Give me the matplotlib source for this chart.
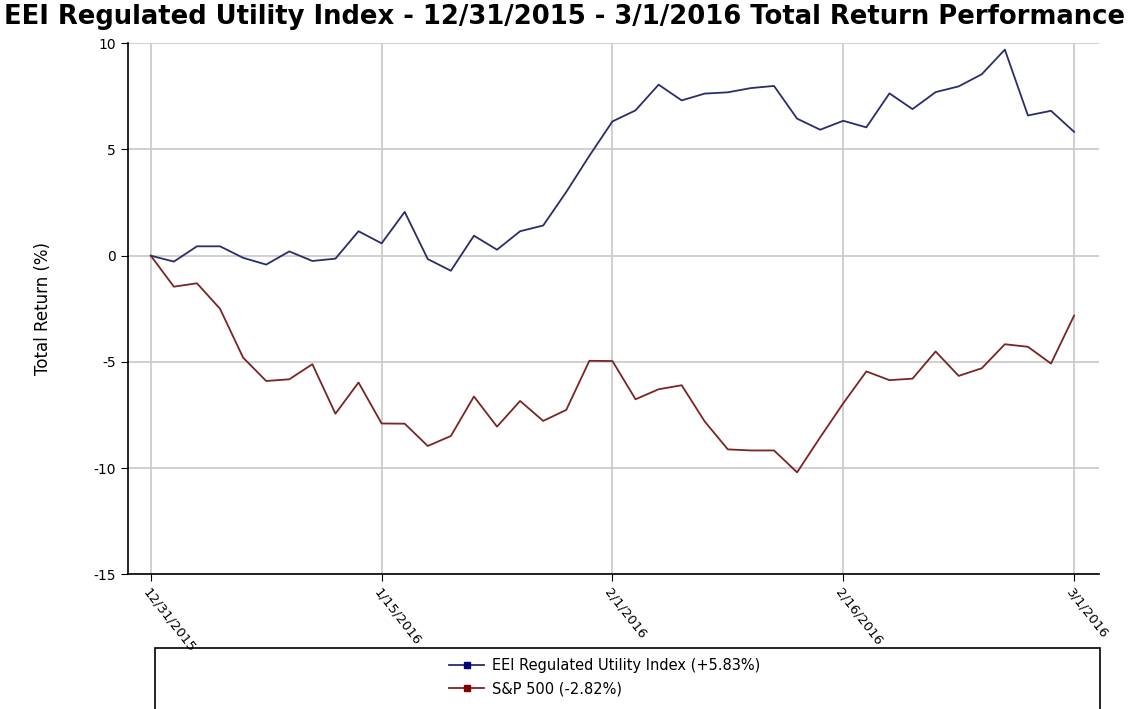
import numpy as np
import matplotlib
matplotlib.use("Agg")
import matplotlib.pyplot as plt
from matplotlib.patches import Rectangle

plt.rcParams["axes.unicode_minus"] = False

# trading days 12/31/2015 .. 3/1/2016 (41 sessions)
tick_labels = ["12/31/2015", "1/15/2016", "2/1/2016", "2/16/2016", "3/1/2016"]
tick_index = [0, 10, 20, 30, 40]

eei = [0.00, -0.28, 0.44, 0.44, -0.10, -0.42, 0.20, -0.25, -0.14, 1.15,
       0.58, 2.06, -0.16, -0.71, 0.94, 0.28, 1.15, 1.42, 3.00, 4.70,
       6.32, 6.84, 8.05, 7.31, 7.63, 7.69, 7.89, 7.99, 6.45, 5.93,
       6.35, 6.04, 7.64, 6.90, 7.70, 7.97, 8.54, 9.70, 6.60, 6.82,
       5.83]
spx = [0.00, -1.46, -1.30, -2.50, -4.80, -5.90, -5.82, -5.11, -7.44, -5.97,
       -7.90, -7.91, -8.96, -8.49, -6.63, -8.05, -6.84, -7.78, -7.26, -4.95,
       -4.96, -6.76, -6.29, -6.10, -7.81, -9.12, -9.17, -9.17, -10.20, -8.55,
       -6.95, -5.45, -5.86, -5.79, -4.51, -5.66, -5.30, -4.17, -4.29, -5.08,
       -2.82]
names = ["EEI Regulated Utility Index (+5.83%)", "S&P 500 (-2.82%)"]

x = np.arange(len(eei))

fig = plt.figure(figsize=(11.3, 7.09), dpi=100)
ax = fig.add_axes([0.113, 0.190, 0.860, 0.749])

ax.plot(x, eei, color="#2a2c6c", lw=1.3)
ax.plot(x, spx, color="#7a2424", lw=1.3)

ax.set_xlim(-1, 41.1)
ax.set_ylim(-15, 10)
ax.set_yticks([-15, -10, -5, 0, 5, 10])
ax.set_xticks(tick_index)
ax.set_xticklabels(tick_labels, rotation=-52, ha="left", va="top",
                   rotation_mode="anchor", fontsize=9.5)
ax.tick_params(axis="y", labelsize=10, length=5, direction="out")
ax.tick_params(axis="x", length=5, direction="out")
ax.grid(True, color="#c8c8c8", lw=1.2)
ax.set_axisbelow(True)
for s in ["top", "right"]:
    ax.spines[s].set_visible(False)
ax.spines["left"].set_linewidth(1.2)
ax.spines["bottom"].set_linewidth(1.2)
ax.set_ylabel("Total Return (%)", fontsize=12, labelpad=30)

fig.text(0.5, 0.995, "EEI Regulated Utility Index - 12/31/2015 - 3/1/2016 Total Return Performance",
         ha="center", va="top", fontsize=18.6, fontweight="bold")

# legend box
fig.add_artist(Rectangle((155 / 1130, -0.01), (1100 - 155) / 1130, (709 - 648) / 709 + 0.01,
                         transform=fig.transFigure, fill=False, ec="black", lw=1.2))
handles = [plt.Line2D([], [], color="#2a2c6c", marker="s", mfc="#000080", mec="#000080", ms=4, lw=1.3),
           plt.Line2D([], [], color="#7a2424", marker="s", mfc="#800000", mec="#800000", ms=4, lw=1.3)]
fig.legend(handles, names, loc="upper center", bbox_to_anchor=(0.535, 1 - 645 / 709),
           bbox_transform=fig.transFigure, frameon=False, fontsize=10.5,
           handlelength=2.4, labelspacing=0.55, handletextpad=0.5)

fig.savefig("out.png", dpi=100)
